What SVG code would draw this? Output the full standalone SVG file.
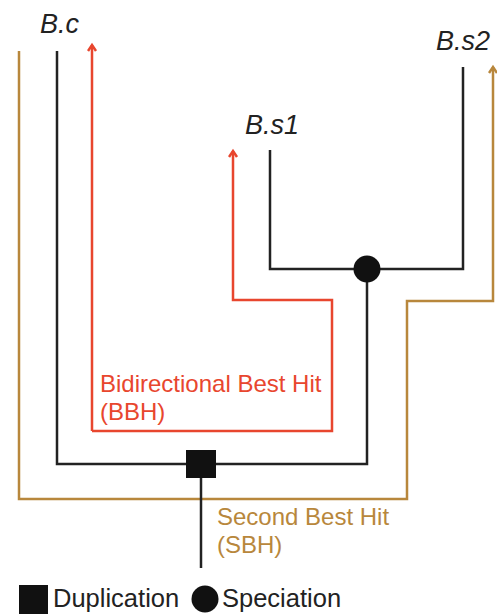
<svg xmlns="http://www.w3.org/2000/svg" width="497" height="614" viewBox="0 0 497 614">
<defs>
<style>
.blk{fill:none;stroke:#222;stroke-width:2.5}
.red{fill:none;stroke:#e8462e;stroke-width:2.5}
.gold{fill:none;stroke:#b8873c;stroke-width:2.5}
.taxon{font-family:"Liberation Sans",Arial,sans-serif;font-style:italic;font-size:27px;fill:#222}
.lbl{font-family:"Liberation Sans",Arial,sans-serif;font-size:24px}
.leg{font-family:"Liberation Sans",Arial,sans-serif;font-size:25.5px;fill:#222}
</style>
<marker id="arR" markerWidth="12" markerHeight="12" refX="8" refY="5" orient="auto" markerUnits="userSpaceOnUse">
<path d="M2,1 L8,5 L2,9" fill="none" stroke="#e8462e" stroke-width="2.5"/>
</marker>
<marker id="arG" markerWidth="12" markerHeight="12" refX="8" refY="5" orient="auto" markerUnits="userSpaceOnUse">
<path d="M2,1 L8,5 L2,9" fill="none" stroke="#b8873c" stroke-width="2.5"/>
</marker>
</defs>
<rect width="497" height="614" fill="#fff"/>
<g id="connectors">
<path class="gold" d="M19,51 V499 H407 V301 H493 V67" marker-end="url(#arG)"/>
<path class="red" d="M92,431 H332 V300 H233 V151" marker-end="url(#arR)"/>
<path class="red" d="M92,431 V45" marker-end="url(#arR)"/>
<path class="blk" d="M57,51 V464 H367 V270"/>
<path class="blk" d="M270,150 V269 H463 V67"/>
<path class="blk" d="M201,464 V568"/>
</g>
<g id="taxon-Bc"><text class="taxon" x="40" y="33">B.c</text></g>
<g id="taxon-Bs1"><text class="taxon" x="245" y="134">B.s1</text></g>
<g id="taxon-Bs2"><text class="taxon" x="436" y="50">B.s2</text></g>
<g id="speciation-node"><circle cx="367" cy="269" r="13.5" fill="#111"/></g>
<g id="duplication-node"><rect x="186" y="450" width="30" height="28" fill="#111"/></g>
<g id="bbh-label"><text class="lbl" fill="#e8462e"><tspan x="100" y="392">Bidirectional Best Hit</tspan><tspan x="100" y="420">(BBH)</tspan></text></g>
<g id="sbh-label"><text class="lbl" fill="#b8873c"><tspan x="217" y="525">Second Best Hit</tspan><tspan x="217" y="553">(SBH)</tspan></text></g>
<g id="legend">
<rect x="19" y="585" width="29" height="29" fill="#111"/>
<text class="leg" x="53" y="607">Duplication</text>
<circle cx="205" cy="599" r="13.5" fill="#111"/>
<text class="leg" x="222" y="607">Speciation</text>
</g>
</svg>
